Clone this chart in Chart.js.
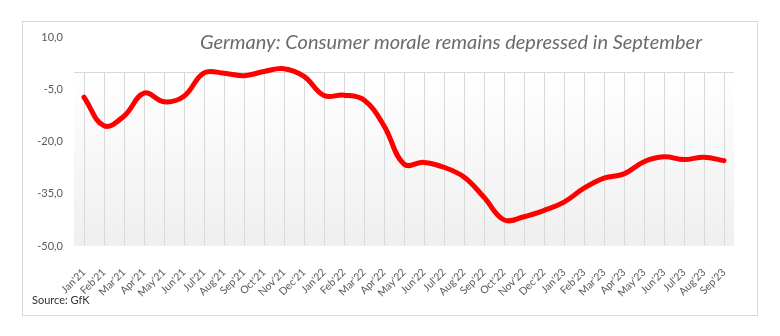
<!DOCTYPE html>
<html>
<head>
<meta charset="utf-8">
<title>Germany consumer morale</title>
<script src="https://cdn.jsdelivr.net/npm/chart.js@4/dist/chart.umd.min.js"></script>
<style>
  html, body { margin: 0; padding: 0; background: #fff; }
  #wrap { width: 780px; height: 336px; position: relative; }
</style>
</head>
<body>
<div id="wrap"><canvas id="chart_morale" width="780" height="336"></canvas></div>
<script>
// GfK consumer climate, monthly
var months = ["Jan'21", "Feb'21", "Mar'21", "Apr'21", "May'21", "Jun'21", "Jul'21", "Aug'21", "Sep'21",
              "Oct'21", "Nov'21", "Dec'21", "Jan'22", "Feb'22", "Mar'22", "Apr'22", "May'22", "Jun'22",
              "Jul'22", "Aug'22", "Sep'22", "Oct'22", "Nov'22", "Dec'22", "Jan'23", "Feb'23", "Mar'23",
              "Apr'23", "May'23", "Jun'23", "Jul'23", "Aug'23", "Sep'23"];
var morale = [-7.3, -15.5, -12.7, -6.1, -8.6, -7.0, -0.3, -0.4, -1.1,
              0.1, 0.9, -1.3, -6.8, -6.7, -8.1, -15.5, -26.5, -26.0,
              -27.4, -30.2, -36.0, -42.5, -41.6, -39.8, -37.4, -33.4, -30.5,
              -29.3, -25.8, -24.4, -25.2, -24.5, -25.5];
var yTicks = [10, -5, -20, -35, -50];

var chartTitle = "Germany: Consumer morale remains depressed in September";
var sourceNote = "Source: GfK";

var textGrey = "#595959";
var baseFont = "Lato, 'Open Sans', sans-serif";

// outer frame, shaded plot band from 0 down to -50 and the category gridlines
var framePlugin = {
    id: "frame",
    beforeDraw: function (chart) {
        var ctx = chart.ctx;
        ctx.save();
        ctx.strokeStyle = "#d9d9d9";
        ctx.lineWidth = 1;
        ctx.strokeRect(22.5, 21.5, 735, 294);
        ctx.restore();
    },
    beforeDatasetsDraw: function (chart) {
        var ctx = chart.ctx, x = chart.scales.x, y = chart.scales.y;
        var area = chart.chartArea;
        var top = Math.round(y.getPixelForValue(0)) + 0.5;
        var bottom = y.getPixelForValue(-50);
        ctx.save();
        var grad = ctx.createLinearGradient(0, top, 0, bottom);
        grad.addColorStop(0, "#ffffff");
        grad.addColorStop(1, "#efefef");
        ctx.fillStyle = grad;
        ctx.fillRect(area.left, top, area.right - area.left, bottom - top);
        ctx.strokeStyle = "#d9d9d9";
        ctx.lineWidth = 1;
        ctx.beginPath();
        ctx.moveTo(area.left, top);
        ctx.lineTo(area.right, top);
        for (var i = 0; i < months.length; i++) {
            var px = Math.round(x.getPixelForValue(i)) + 0.5;
            ctx.moveTo(px, top);
            ctx.lineTo(px, bottom);
        }
        ctx.stroke();
        ctx.restore();
    },
    afterDraw: function (chart) {
        var ctx = chart.ctx;
        ctx.save();
        ctx.fillStyle = "#6b6b6b";
        ctx.font = "italic 20px " + baseFont;
        ctx.textBaseline = "alphabetic";
        ctx.textAlign = "right";
        ctx.fillText(chartTitle, 702, 49);
        ctx.fillStyle = "#333333";
        ctx.font = "11px " + baseFont;
        ctx.textAlign = "left";
        ctx.fillText(sourceNote, 32, 304);
        ctx.restore();
    }
};

var moraleCtx = document.getElementById("chart_morale").getContext("2d");
var moraleChart = new Chart(moraleCtx, {
    type: "line",
    data: {
        labels: months,
        datasets: [{
            data: morale,
            borderColor: "#ff0000",
            borderWidth: 5,
            borderCapStyle: "round",
            borderJoinStyle: "round",
            pointRadius: 0,
            tension: 0.4,
            fill: false
        }]
    },
    options: {
        responsive: false,
        animation: false,
        layout: { padding: { left: 0, right: 46, top: 37, bottom: 0 } },
        plugins: {
            legend: { display: false },
            tooltip: { enabled: false },
            title: { display: false }
        },
        scales: {
            x: {
                offset: true,
                grid: { display: false },
                border: { display: false },
                ticks: {
                    autoSkip: false,
                    minRotation: 45,
                    maxRotation: 45,
                    padding: 12,
                    color: textGrey,
                    font: { family: baseFont, size: 10.5 }
                },
                afterFit: function (scale) { scale.height = 90; }
            },
            y: {
                min: -50,
                max: 10,
                grid: { display: false, drawTicks: false },
                border: { display: false },
                afterBuildTicks: function (scale) {
                    scale.ticks = yTicks.map(function (v) { return { value: v }; });
                },
                ticks: {
                    padding: 11,
                    color: textGrey,
                    font: { family: baseFont, size: 11 },
                    callback: function (v) { return v.toFixed(1).replace(".", ","); }
                },
                afterFit: function (scale) { scale.width = 74; }
            }
        }
    },
    plugins: [framePlugin]
});
</script>
</body>
</html>
